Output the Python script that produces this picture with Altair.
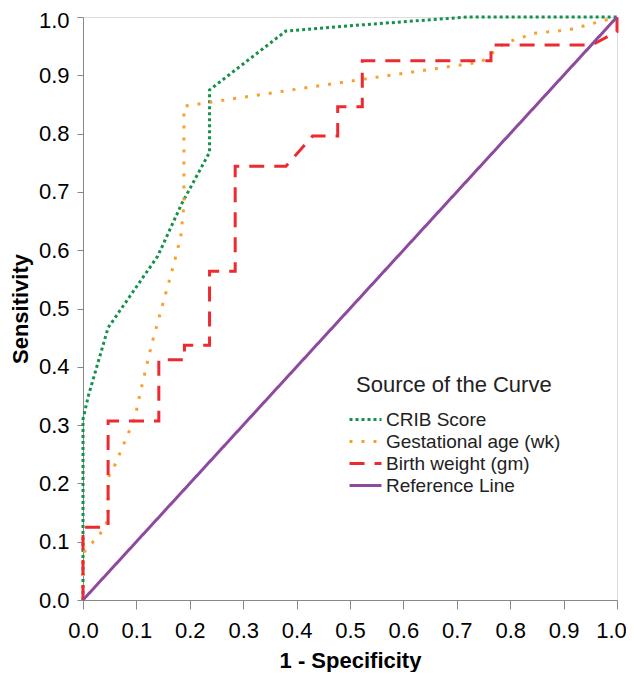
import altair as alt
import pandas as pd

series_names = ["CRIB Score", "Gestational age (wk)", "Birth weight (gm)", "Reference Line"]
series_colors = ["#14924a", "#f7a130", "#ec2a30", "#8e4a9e"]
series_dashes = [[3, 3], [3, 9], [15, 10], [1, 0]]

crib_x = [0.0, 0.0, 0.01, 0.047, 0.14, 0.185, 0.237, 0.237, 0.38, 0.5, 0.72, 1.0]
crib_y = [0.0, 0.31, 0.35, 0.467, 0.59, 0.68, 0.768, 0.875, 0.976, 0.985, 1.0, 1.0]

ga_x = [0.0, 0.0, 0.041, 0.047, 0.047, 0.058, 0.077, 0.097, 0.107, 0.129, 0.148, 0.168, 0.183, 0.189, 0.189, 0.5, 0.746, 0.789, 0.845, 0.91, 1.0]
ga_y = [0.0, 0.08, 0.123, 0.14, 0.21, 0.228, 0.269, 0.312, 0.355, 0.44, 0.503, 0.569, 0.623, 0.678, 0.847, 0.89, 0.923, 0.955, 0.972, 0.978, 1.0]

bw_x = [0.0, 0.0, 0.047, 0.047, 0.142, 0.142, 0.19, 0.19, 0.237, 0.237, 0.285, 0.285, 0.38, 0.43, 0.477, 0.477, 0.523, 0.523, 0.764, 0.764, 0.953, 1.0, 1.0]
bw_y = [0.0, 0.125, 0.125, 0.307, 0.307, 0.412, 0.412, 0.437, 0.437, 0.564, 0.564, 0.744, 0.744, 0.796, 0.796, 0.846, 0.846, 0.925, 0.925, 0.952, 0.952, 0.975, 1.0]

ref_x = [0.0, 1.0]
ref_y = [0.0, 1.0]

tick_values = [i / 10 for i in range(11)]

rows = []
for name, xs, ys in zip(series_names, [crib_x, ga_x, bw_x, ref_x], [crib_y, ga_y, bw_y, ref_y]):
    for i, (xv, yv) in enumerate(zip(xs, ys)):
        rows.append({"series": name, "x": xv, "y": yv, "idx": i})
df = pd.DataFrame(rows)

FONT = "Liberation Sans"

chart = alt.Chart(df).mark_line(strokeWidth=3, clip=False).encode(
    x=alt.X("x:Q", title="1 - Specificity",
            scale=alt.Scale(domain=[0, 1], nice=False, zero=False),
            axis=alt.Axis(values=tick_values, format=".1f", grid=False,
                          tickSize=9, labelPadding=11, titlePadding=9,
                          labelFlush=False, labelOverlap=False, labelBound=False,
                          labelOffset=alt.condition("datum.value >= 1", alt.value(-6), alt.value(0)),
                          labelFontSize=22, titleFontSize=22, titleFontWeight="bold")),
    y=alt.Y("y:Q", title="Sensitivity",
            scale=alt.Scale(domain=[0, 1], nice=False, zero=False),
            axis=alt.Axis(values=tick_values, format=".1f", grid=False,
                          tickSize=6, labelPadding=8, titlePadding=6,
                          labelFlush=False, labelOverlap=False, labelBound=False,
                          labelOffset=alt.condition("datum.value >= 1", alt.value(3), alt.value(0)),
                          labelFontSize=22, titleFontSize=22, titleFontWeight="bold")),
    color=alt.Color("series:N",
                    scale=alt.Scale(domain=series_names, range=series_colors),
                    legend=alt.Legend(title="Source of the Curve", orient="none",
                                      legendX=273, legendY=358,
                                      symbolType="M-2,0H2", symbolSize=256,
                                      symbolStrokeWidth=3,
                                      labelFontSize=19, titleFontSize=22,
                                      titleFontWeight="normal", titlePadding=13,
                                      rowPadding=2, labelOffset=11,
                                      labelLimit=0, titleLimit=0,
                                      labelColor="#222", titleColor="#222",
                                      labelFont=FONT, titleFont=FONT)),
    strokeDash=alt.StrokeDash("series:N",
                              scale=alt.Scale(domain=series_names, range=series_dashes),
                              legend=alt.Legend(title="Source of the Curve")),
    order="idx:Q",
).properties(
    width=534, height=583,
    autosize=alt.AutoSizeParams(type="none"),
    padding={"left": 75, "top": 9, "right": 9, "bottom": 72},
).configure_view(
    stroke="#555", strokeWidth=1.5
).configure_axis(
    domainColor="#222", tickColor="#222", labelColor="#222", titleColor="#222",
    labelFont=FONT, titleFont=FONT, domainWidth=1.5, tickWidth=1.5,
).configure(background="white")

chart.save("out.html", embed_options={"renderer": "svg", "actions": False})
